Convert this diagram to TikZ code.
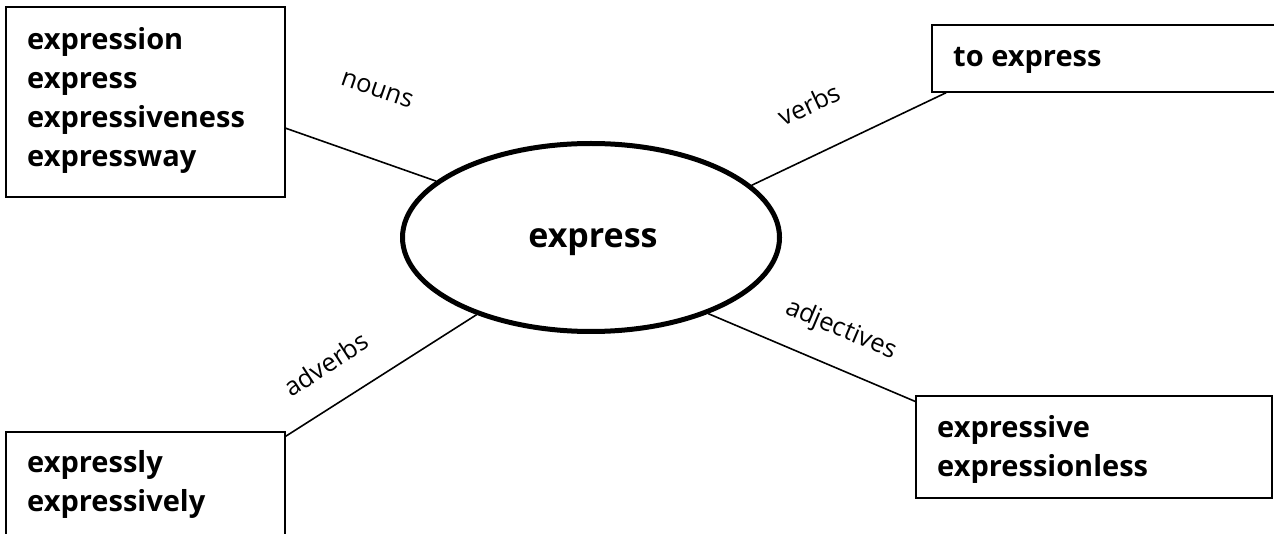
\documentclass[tikz,border=0pt]{standalone}
\usepackage{fontspec}
\setmainfont{Open Sans}
\usetikzlibrary{shapes.geometric,calc}
\tikzset{
  wordbox/.style={draw, line width=1.5pt, rectangle, inner sep=0pt},
  wordlist/.style={anchor=base west, inner sep=0pt, font=\fontsize{29}{39}\selectfont\bfseries},
  branch/.style={line width=1.6pt},
  branchlabel/.style={inner sep=0pt, font=\fontsize{25.5}{28}\selectfont},
  core/.style={draw, ellipse, line width=5pt, inner sep=0pt, minimum width=377pt, minimum height=188pt}
}
\newcommand{\wl}[1]{\begin{tabular}[t]{@{}l@{}}#1\end{tabular}}
\begin{document}
\begin{tikzpicture}[x=1pt,y=-1pt]
\useasboundingbox (0,0) rectangle (1274,534);
\clip (0,0) rectangle (1274,534);
\fill[white] (0,0) rectangle (1274,534);
% boxes
\node[wordbox, minimum width=279pt, minimum height=190pt] (nbox) at (145.5,102) {};
\node[wordbox, minimum width=368pt, minimum height=67pt] (vbox) at (1116,58.5) {};
\node[wordbox, minimum width=279pt, minimum height=128pt] (dbox) at (145.5,496) {};
\node[wordbox, minimum width=356pt, minimum height=102pt] (abox) at (1094,447) {};
% centre
\node[core] (ell) at (591,237.5) {};
\node[anchor=base, inner sep=0pt, font=\fontsize{34}{40}\selectfont\bfseries] (ellt) at (593,248) {express};
% box texts
\node[wordlist] (nt) at (27,50) {\fontsize{29}{39}\selectfont\wl{expression\\express\\expressiveness\\expressway}};
\node[wordlist] (vt) at (953,67) {to express};
\node[wordlist] (dt) at (27,472) {\fontsize{29}{39}\selectfont\wl{expressly\\expressively}};
\node[wordlist] (at) at (937,437) {\fontsize{29}{39}\selectfont\wl{expressive\\expressionless}};
% connectors
\draw[branch] ($(nbox.north east)!0.637!(nbox.south east)$) -- (ell.160);
\draw[branch] ($(vbox.south west)!0.04!(vbox.south east)$) -- (ell.18);
\draw[branch] ($(abox.north west)!0.06!(abox.south west)$) -- (ell.-33);
\draw[branch] ([yshift=-5pt]dbox.north east) -- (ell.214);
% labels
\node[branchlabel, rotate=-19] (ln) at (377,90) {nouns};
\node[branchlabel, rotate=25] (lv) at (809,104) {verbs};
\node[branchlabel, rotate=-23] (la) at (841,330) {adjectives};
\node[branchlabel, rotate=33] (ld) at (326,364) {adverbs};
\end{tikzpicture}
\end{document}
